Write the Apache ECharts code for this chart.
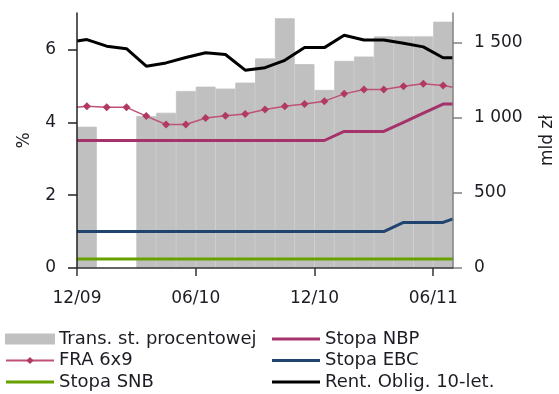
<!DOCTYPE html>
<html>
<head>
<meta charset="utf-8">
<script src="https://cdn.jsdelivr.net/npm/echarts@6/dist/echarts.min.js"></script>
<style>html,body{margin:0;padding:0;background:#fff}#c{width:559px;height:394px}</style>
</head>
<body>
<div id="c"></div>
<script>
// categories: months 12/09 .. 06/11
const months = ['12/09','01/10','02/10','03/10','04/10','05/10','06/10','07/10','08/10','09/10','10/10','11/10','12/10','01/11','02/11','03/11','04/11','05/11','06/11'];
const xTickLabels = {0: '12/09', 6: '06/10', 12: '12/10', 18: '06/11'};
const xTicks = [0, 6, 12, 18];
const leftTicks = [0, 2, 4, 6];
const rightTicks = [0, 500, 1000, 1500];

// bars: Trans. st. procentowej (mld zł, right axis)
const transVals = [942, null, null, 1013, 1035, 1180, 1209, 1196, 1236, 1397, 1665, 1359, 1187, 1381, 1410, 1544, 1544, 1544, 1642];

// lines (%), values at start edge, each month, end edge
const fraVals  = [4.41, 4.44, 4.41, 4.41, 4.17, 3.94, 3.94, 4.12, 4.18, 4.23, 4.35, 4.44, 4.50, 4.58, 4.78, 4.90, 4.90, 4.99, 5.06, 5.01, 4.96];
const nbpVals  = [3.5, 3.5, 3.5, 3.5, 3.5, 3.5, 3.5, 3.5, 3.5, 3.5, 3.5, 3.5, 3.5, 3.5, 3.75, 3.75, 3.75, 4.0, 4.25, 4.5, 4.5];
const ebcVals  = [1.0, 1.0, 1.0, 1.0, 1.0, 1.0, 1.0, 1.0, 1.0, 1.0, 1.0, 1.0, 1.0, 1.0, 1.0, 1.0, 1.0, 1.25, 1.25, 1.25, 1.35];
const snbVals  = [0.25, 0.25, 0.25, 0.25, 0.25, 0.25, 0.25, 0.25, 0.25, 0.25, 0.25, 0.25, 0.25, 0.25, 0.25, 0.25, 0.25, 0.25, 0.25, 0.25, 0.25];
const oblVals  = [6.23, 6.27, 6.09, 6.02, 5.54, 5.63, 5.78, 5.91, 5.86, 5.43, 5.50, 5.70, 6.05, 6.05, 6.39, 6.26, 6.26, 6.17, 6.07, 5.77, 5.77];

// x positions of line points (axis units: month index), edges + month centres
const lineX = [0].concat(months.map((m, i) => i + 0.5), [months.length]);

function pts(vals, markers) {
  return vals.map((v, i) => {
    const edge = (i === 0 || i === vals.length - 1);
    const o = {value: [lineX[i], v]};
    if (markers && edge) o.symbol = 'none';
    return o;
  });
}

const FONT = 'DejaVu Sans';
const TXT = '#1c1c24';
const LINE_ICON = 'path://M0,0 H64 V4 H0 Z';
const legendText = {fontSize: 18, color: TXT, fontFamily: FONT};
const chart = echarts.init(document.getElementById('c'));
chart.setOption({
  animation: false,
  textStyle: {fontFamily: FONT},
  grid: {left: 77, right: 106, top: 13, bottom: 126, containLabel: false, outerBoundsMode: 'none'},
  xAxis: [
    {type: 'category', data: months, boundaryGap: true, show: false, gridIndex: 0},
    {type: 'value', min: 0, max: months.length, position: 'bottom', z: 10,
     axisLine: {show: true, lineStyle: {color: '#333', width: 1.5}},
     axisTick: {show: true, length: 8, lineStyle: {color: '#333', width: 1.5}, customValues: xTicks},
     axisLabel: {customValues: xTicks, formatter: v => xTickLabels[v] || '', fontSize: 17, color: TXT, margin: 22, fontFamily: FONT},
     splitLine: {show: false}}
  ],
  yAxis: [
    {type: 'value', min: 0, max: 7, position: 'left', name: '%', nameLocation: 'middle', nameGap: 44, z: 10,
     nameTextStyle: {fontSize: 17, color: TXT, fontFamily: FONT},
     axisLine: {show: true, lineStyle: {color: '#222', width: 1.5}},
     axisTick: {show: true, length: 9, lineStyle: {color: '#222', width: 1.5}, customValues: leftTicks},
     axisLabel: {customValues: leftTicks, fontSize: 17, color: TXT, margin: 21, fontFamily: FONT},
     splitLine: {show: false}},
    {type: 'value', min: 0, max: 1700, position: 'right', name: 'mld zł', nameLocation: 'middle', nameGap: 86, z: 10,
     nameTextStyle: {fontSize: 17, color: TXT, fontFamily: FONT},
     axisLine: {show: true, lineStyle: {color: '#808080', width: 1.5}},
     axisTick: {show: true, length: 9, lineStyle: {color: '#808080', width: 1.5}, customValues: rightTicks},
     axisLabel: {customValues: rightTicks, fontSize: 17, color: TXT, margin: 21, fontFamily: FONT,
       formatter: v => String(v).replace(/\B(?=(\d{3})+(?!\d))/g, ' ')},
     splitLine: {show: false}}
  ],
  legend: [
    {data: [{name: 'Trans. st. procentowej', icon: 'rect'}, 'FRA 6x9', {name: 'Stopa SNB', icon: LINE_ICON}],
     orient: 'vertical', left: 5, top: 330,
     itemWidth: 48, itemHeight: 9, itemGap: 3.5, textStyle: legendText, padding: 0},
    {data: [{name: 'Stopa NBP', icon: LINE_ICON}, {name: 'Stopa EBC', icon: LINE_ICON}, {name: 'Rent. Oblig. 10-let.', icon: LINE_ICON}],
     orient: 'vertical', left: 272, top: 330,
     itemWidth: 48, itemHeight: 9, itemGap: 3.5, textStyle: legendText, padding: 0}
  ],
  series: [
    {name: 'Trans. st. procentowej', type: 'bar', xAxisIndex: 0, yAxisIndex: 1, data: transVals,
     barCategoryGap: '0%', itemStyle: {color: '#c0c0c0', borderColor: '#c0c0c0', borderWidth: 0.8}, z: 1},
    {name: 'Stopa SNB', type: 'line', xAxisIndex: 1, yAxisIndex: 0, data: pts(snbVals), symbol: 'none',
     lineStyle: {color: '#66a100', width: 3}, itemStyle: {color: '#66a100'}, z: 3},
    {name: 'Stopa EBC', type: 'line', xAxisIndex: 1, yAxisIndex: 0, data: pts(ebcVals), symbol: 'none',
     lineStyle: {color: '#1f4470', width: 3}, itemStyle: {color: '#1f4470'}, z: 3},
    {name: 'Stopa NBP', type: 'line', xAxisIndex: 1, yAxisIndex: 0, data: pts(nbpVals), symbol: 'none',
     lineStyle: {color: '#a5336b', width: 3}, itemStyle: {color: '#a5336b'}, z: 3},
    {name: 'FRA 6x9', type: 'line', xAxisIndex: 1, yAxisIndex: 0, data: pts(fraVals, true), symbol: 'diamond', symbolSize: 8,
     showAllSymbol: true,
     lineStyle: {color: '#c0507a', width: 1.5}, itemStyle: {color: '#b03a60'}, z: 4},
    {name: 'Rent. Oblig. 10-let.', type: 'line', xAxisIndex: 1, yAxisIndex: 0, data: pts(oblVals), symbol: 'none',
     lineStyle: {color: '#000000', width: 3}, itemStyle: {color: '#000000'}, z: 5}
  ]
});
</script>
</body>
</html>
